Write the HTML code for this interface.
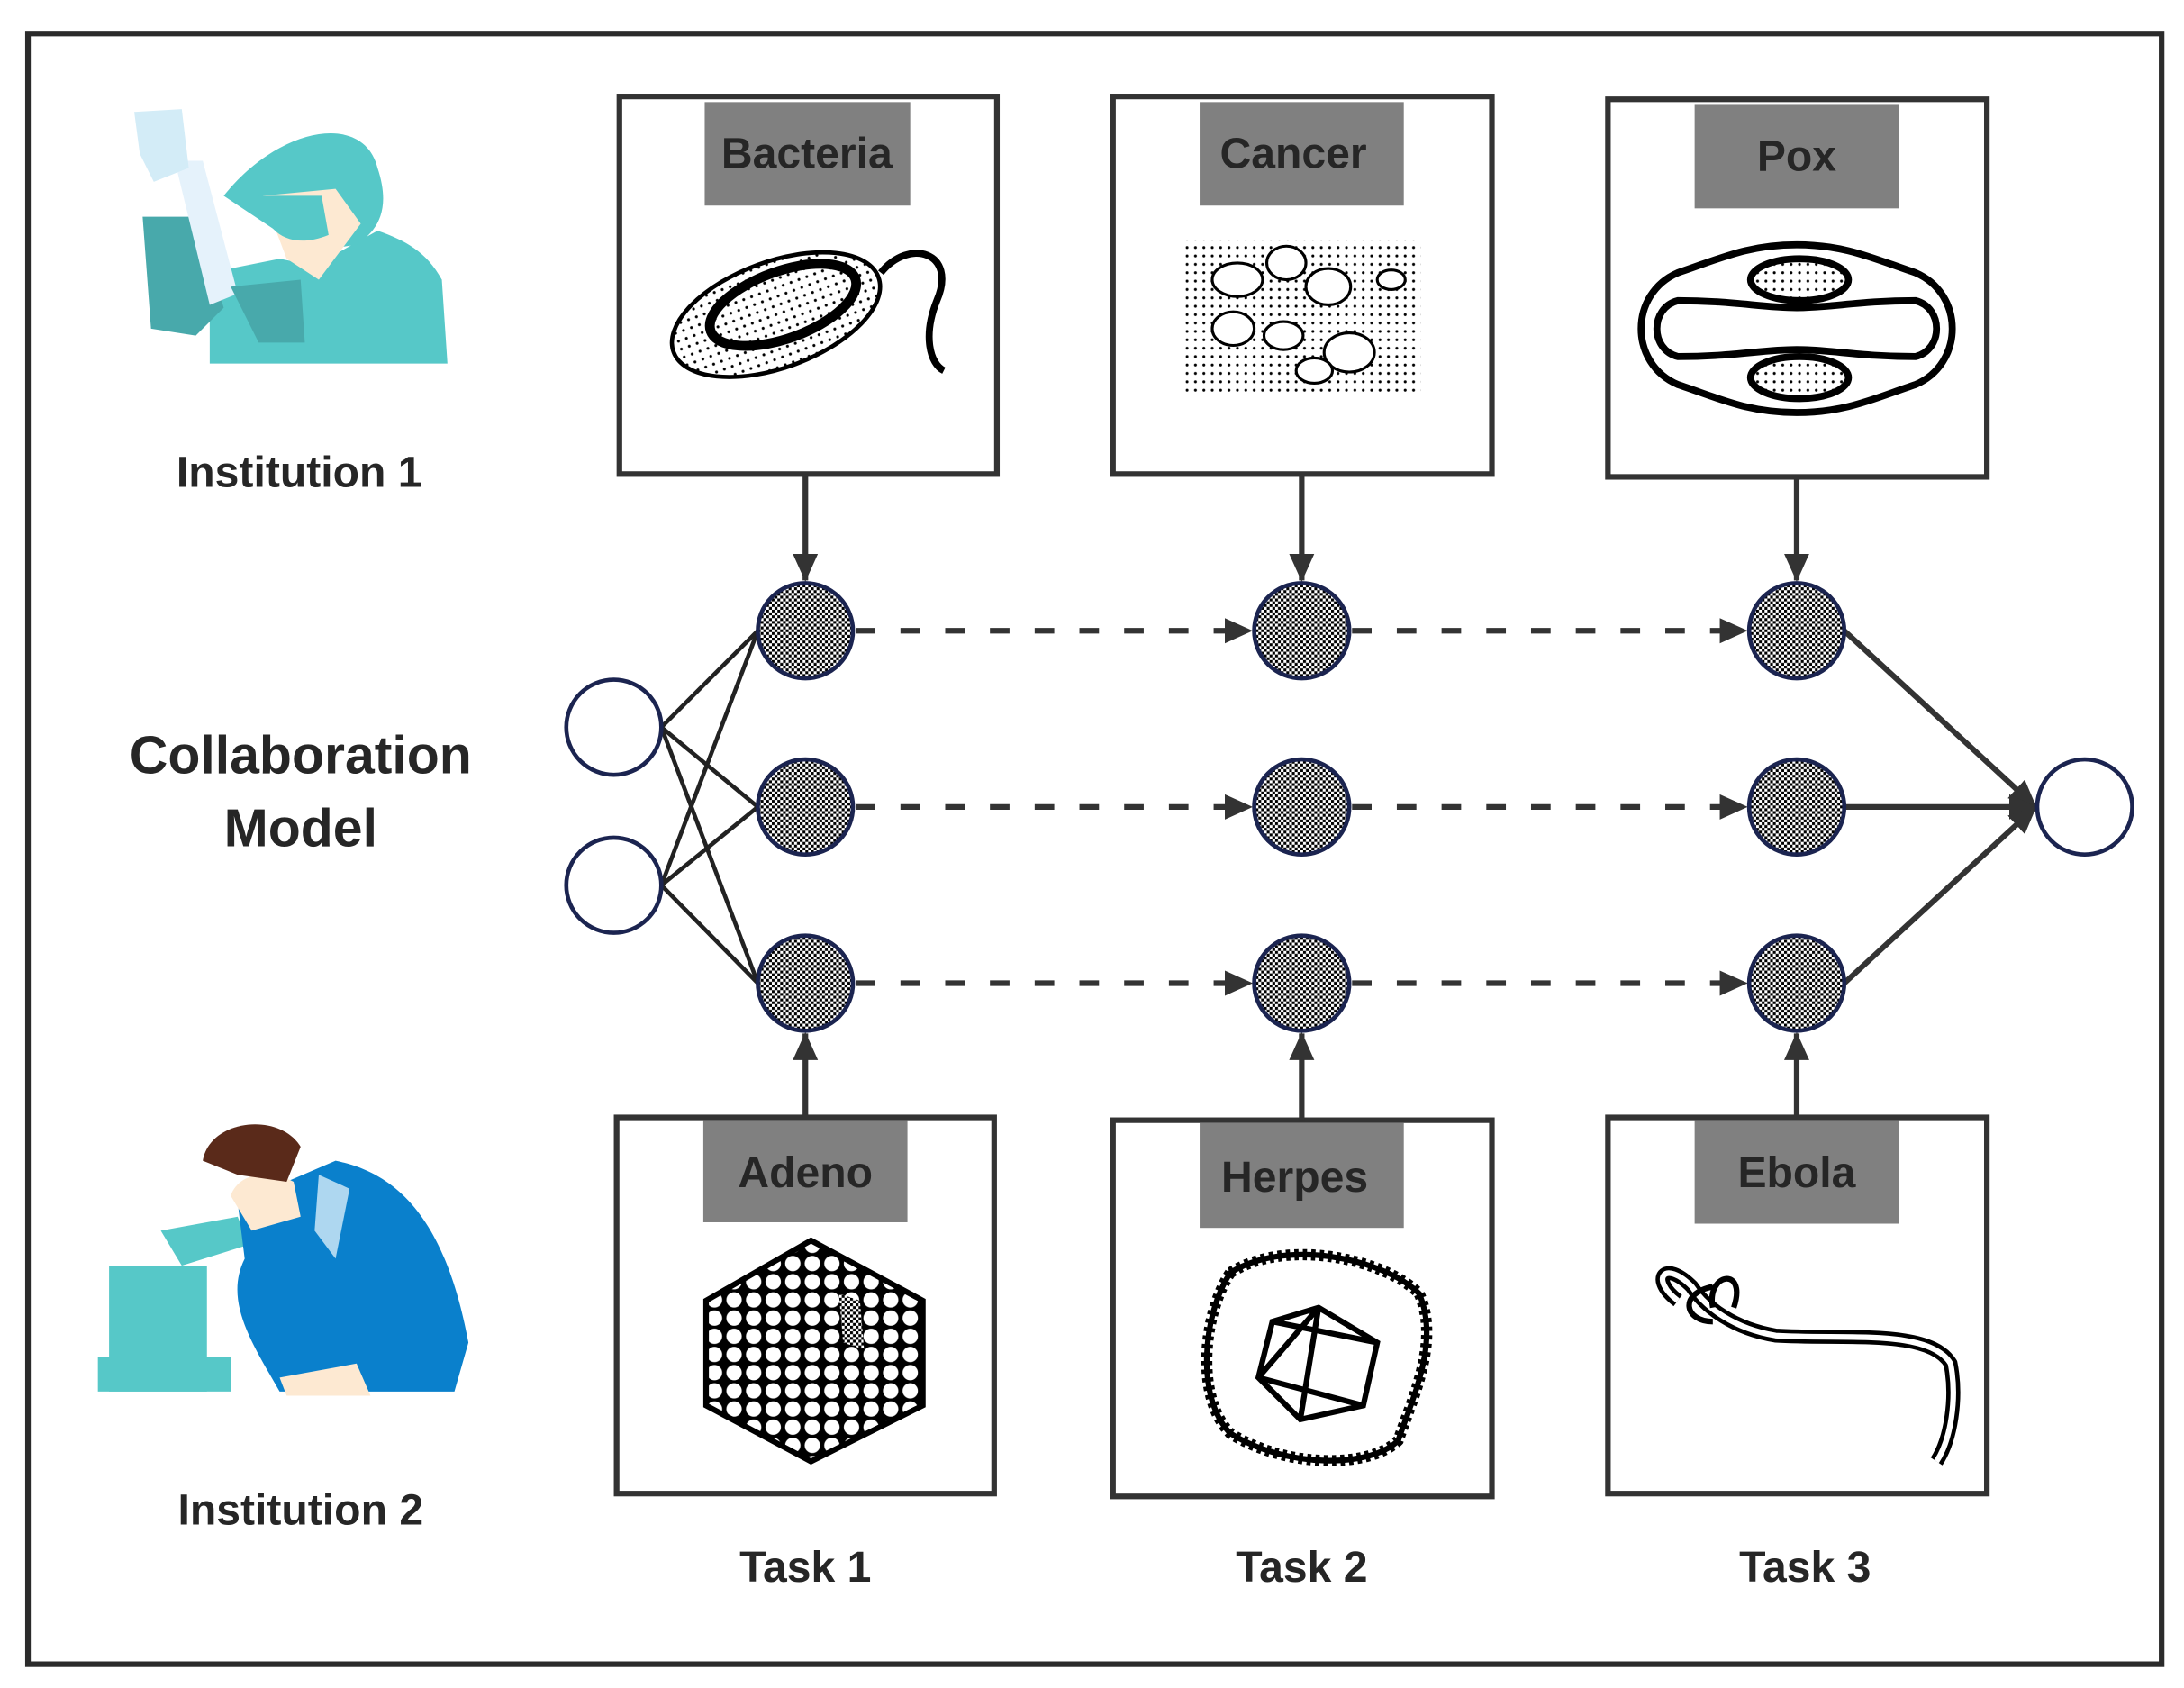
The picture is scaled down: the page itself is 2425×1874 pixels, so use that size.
<!DOCTYPE html>
<html><head><meta charset="utf-8"><style>
html,body{margin:0;padding:0;background:#fff}
svg{display:block}
text{font-family:"Liberation Sans",sans-serif;font-weight:bold;fill:#262626}
</style></head><body>
<svg width="2425" height="1874" viewBox="0 0 1562 1207" preserveAspectRatio="none" xmlns="http://www.w3.org/2000/svg">
<defs>
<pattern id="ck" width="4" height="4" patternUnits="userSpaceOnUse">
<rect width="4" height="4" fill="#fff"/><rect width="2" height="2" fill="#000"/><rect x="2" y="2" width="2" height="2" fill="#000"/>
</pattern>
<pattern id="dots" width="6" height="6" patternUnits="userSpaceOnUse"><circle cx="3" cy="3" r="1" fill="#000"/></pattern>
<pattern id="cells" width="14" height="13" patternUnits="userSpaceOnUse"><rect width="14" height="13" fill="#000"/><circle cx="7" cy="6.5" r="5.5" fill="#fff"/></pattern>
<marker id="ah2" markerWidth="20" markerHeight="20" refX="19" refY="10" orient="auto" markerUnits="userSpaceOnUse"><path d="M0,1 L20,10 L0,19 z" fill="#333"/></marker>
</defs>
<rect x="20" y="24" width="1526" height="1166" fill="#fff" stroke="#2b2b2b" stroke-width="4"/>

<g>
<path d="M150,260 L320,260 L316,200 C305,180 290,172 270,165 L225,190 L200,185 L150,195 Z" fill="#56c8c8"/>
<path d="M160,140 C200,90 260,80 270,120 C280,150 270,165 255,175 L220,180 Z" fill="#56c8c8"/>
<path d="M188,140 L240,135 L258,160 L228,200 L205,185 Z" fill="#fde9d2"/>
<path d="M185,140 C190,170 210,178 235,168 L230,140 Z" fill="#56c8c8"/>
<path d="M102,155 L140,155 L160,220 L140,240 L108,235 Z" fill="#48a9ab"/>
<path d="M125,115 L145,115 L170,210 L150,218 Z" fill="#e5f2fb"/>
<path d="M96,80 L130,78 L135,120 L110,130 L100,110 Z" fill="#d3ecf7"/>
<path d="M165,205 L215,200 L218,245 L185,245 Z" fill="#48a9ab"/>
</g>
<text x="214" y="348" font-size="31" text-anchor="middle">Institution 1</text>

<text x="215" y="553" font-size="38" text-anchor="middle">Collaboration</text>
<text x="215" y="605" font-size="38" text-anchor="middle">Model</text>

<g>
<rect x="78" y="905" width="70" height="90" fill="#56c8c8"/>
<rect x="70" y="970" width="95" height="25" fill="#56c8c8"/>
<path d="M115,880 L170,870 L178,890 L130,905 Z" fill="#56c8c8"/>
<path d="M170,860 L240,830 C290,840 320,880 335,960 L325,995 L200,995 C180,960 160,930 175,900 Z" fill="#0a80cc"/>
<path d="M200,985 L255,975 L265,998 L205,998 Z" fill="#fde9d2"/>
<path d="M165,855 C170,840 190,835 210,845 L215,870 L180,880 Z" fill="#fde9d2"/>
<path d="M145,830 C150,800 200,795 215,820 L205,845 L170,840 Z" fill="#5a2a1a"/>
<path d="M228,840 L250,850 L240,900 L225,880 Z" fill="#aed7f0"/>
</g>
<text x="215" y="1090" font-size="31" text-anchor="middle">Institution 2</text>

<g fill="#fff" stroke="#333" stroke-width="4">
<rect x="443" y="69" width="270" height="270"/>
<rect x="796" y="69" width="271" height="270"/>
<rect x="1150" y="71" width="271" height="270"/>
<rect x="441" y="799" width="270" height="269"/>
<rect x="796" y="801" width="271" height="269"/>
<rect x="1150" y="799" width="271" height="269"/>
</g>
<g fill="#808080">
<rect x="504" y="73" width="147" height="74"/>
<rect x="858" y="73" width="146" height="74"/>
<rect x="1212" y="75" width="146" height="74"/>
<rect x="503" y="801" width="146" height="73"/>
<rect x="858" y="803" width="146" height="75"/>
<rect x="1212" y="801" width="146" height="74"/>
</g>
<g font-size="31" text-anchor="middle">
<text x="577" y="120">Bacteria</text>
<text x="925" y="120">Cancer</text>
<text x="1285" y="122">Pox</text>
<text x="576" y="849">Adeno</text>
<text x="926" y="852">Herpes</text>
<text x="1285" y="849">Ebola</text>
</g>

<g stroke="#000" fill="none" stroke-width="5">
<ellipse cx="555" cy="225" rx="78" ry="38" transform="rotate(-20 555 225)" fill="url(#dots)" stroke-width="3"/>
<ellipse cx="560" cy="218" rx="55" ry="24" transform="rotate(-20 560 218)" stroke-width="7"/>
<path d="M630,195 C650,170 685,180 670,215 C660,240 665,260 675,265"/>
</g>
<rect x="848" y="172" width="168" height="110" fill="url(#dots)"/>
<g fill="#fff" stroke="#000" stroke-width="2">
<ellipse cx="885" cy="200" rx="18" ry="12"/><ellipse cx="920" cy="188" rx="14" ry="12"/><ellipse cx="950" cy="205" rx="16" ry="13"/>
<ellipse cx="882" cy="235" rx="15" ry="12"/><ellipse cx="918" cy="240" rx="14" ry="10"/><ellipse cx="965" cy="252" rx="18" ry="14"/><ellipse cx="940" cy="265" rx="13" ry="9"/><ellipse cx="995" cy="200" rx="10" ry="7"/>
</g>
<g stroke="#000" fill="none" stroke-width="5">
<path d="M1200,195 C1230,185 1250,175 1285,175 C1320,175 1340,185 1370,195 C1405,210 1405,260 1370,275 C1340,285 1320,295 1285,295 C1250,295 1230,285 1200,275 C1165,260 1165,210 1200,195 Z"/>
<path d="M1200,215 C1240,215 1260,220 1285,220 C1310,220 1330,215 1370,215 C1390,220 1390,250 1370,255 C1330,255 1310,250 1285,250 C1260,250 1240,255 1200,255 C1180,250 1180,220 1200,215 Z"/>
<ellipse cx="1287" cy="200" rx="35" ry="15" fill="url(#dots)"/>
<ellipse cx="1287" cy="270" rx="35" ry="15" fill="url(#dots)"/>
</g>
<path d="M580,887 L660,930 L660,1005 L580,1045 L505,1005 L505,930 Z" fill="url(#cells)" stroke="#000" stroke-width="4"/>
<path d="M600,925 L615,930 L618,965 L603,960 Z" fill="url(#ck)"/>
<g stroke="#000" fill="none" stroke-width="4">
<path d="M880,910 C920,885 990,900 1015,925 C1030,960 1010,1000 1000,1030 C980,1050 920,1050 880,1025 C855,1000 860,940 880,910 Z" stroke-dasharray="3 3" stroke-width="8"/>
<path d="M880,910 C920,885 990,900 1015,925 C1030,960 1010,1000 1000,1030 C980,1050 920,1050 880,1025 C855,1000 860,940 880,910 Z"/>
<path d="M943,935 L985,960 L975,1005 L930,1015 L900,985 L910,945 Z M943,935 L930,1015 M910,945 L985,960 M900,985 L975,1005 M943,935 L900,985"/>
<path d="M1200,930 C1180,915 1190,900 1210,920 C1220,935 1240,950 1270,955 C1320,958 1380,950 1395,975 C1400,1000 1395,1030 1385,1045" stroke-width="10"/>
<path d="M1200,930 C1180,915 1190,900 1210,920 C1220,935 1240,950 1270,955 C1320,958 1380,950 1395,975 C1400,1000 1395,1030 1385,1045" stroke="#fff" stroke-width="4"/>
<path d="M1225,935 C1220,910 1250,905 1240,935 M1225,945 C1205,945 1200,925 1225,920" stroke-width="4"/>
</g>

<g stroke="#333" stroke-width="4" fill="none">
<line x1="576" y1="339" x2="576" y2="415" marker-end="url(#ah2)"/>
<line x1="931" y1="339" x2="931" y2="415" marker-end="url(#ah2)"/>
<line x1="1285" y1="341" x2="1285" y2="415" marker-end="url(#ah2)"/>
<line x1="576" y1="799" x2="576" y2="739" marker-end="url(#ah2)"/>
<line x1="931" y1="801" x2="931" y2="739" marker-end="url(#ah2)"/>
<line x1="1285" y1="799" x2="1285" y2="739" marker-end="url(#ah2)"/>
</g>
<g stroke="#333" stroke-width="4" stroke-dasharray="14 18" fill="none">
<line x1="612" y1="451" x2="895" y2="451" marker-end="url(#ah2)"/>
<line x1="967" y1="451" x2="1249" y2="451" marker-end="url(#ah2)"/>
<line x1="612" y1="577" x2="895" y2="577" marker-end="url(#ah2)"/>
<line x1="967" y1="577" x2="1249" y2="577" marker-end="url(#ah2)"/>
<line x1="612" y1="703" x2="895" y2="703" marker-end="url(#ah2)"/>
<line x1="967" y1="703" x2="1249" y2="703" marker-end="url(#ah2)"/>
</g>
<g stroke="#222" stroke-width="3">
<line x1="473" y1="520" x2="542" y2="451"/><line x1="473" y1="520" x2="542" y2="577"/><line x1="473" y1="520" x2="542" y2="703"/>
<line x1="473" y1="633" x2="542" y2="451"/><line x1="473" y1="633" x2="542" y2="577"/><line x1="473" y1="633" x2="542" y2="703"/>
</g>
<g stroke="#333" stroke-width="4">
<line x1="1319" y1="451" x2="1456" y2="577" marker-end="url(#ah2)"/>
<line x1="1319" y1="577" x2="1456" y2="577" marker-end="url(#ah2)"/>
<line x1="1319" y1="703" x2="1456" y2="577" marker-end="url(#ah2)"/>
</g>
<g fill="url(#ck)" stroke="#1b2450" stroke-width="3">
<circle cx="576" cy="451" r="34"/><circle cx="931" cy="451" r="34"/><circle cx="1285" cy="451" r="34"/>
<circle cx="576" cy="577" r="34"/><circle cx="931" cy="577" r="34"/><circle cx="1285" cy="577" r="34"/>
<circle cx="576" cy="703" r="34"/><circle cx="931" cy="703" r="34"/><circle cx="1285" cy="703" r="34"/>
</g>
<g fill="#fff" stroke="#1b2450" stroke-width="3">
<circle cx="439" cy="520" r="34"/><circle cx="439" cy="633" r="34"/><circle cx="1491" cy="577" r="34"/>
</g>

<g font-size="31" text-anchor="middle">
<text x="576" y="1131">Task 1</text>
<text x="931" y="1131">Task 2</text>
<text x="1291" y="1131">Task 3</text>
</g>
</svg>
</body></html>
